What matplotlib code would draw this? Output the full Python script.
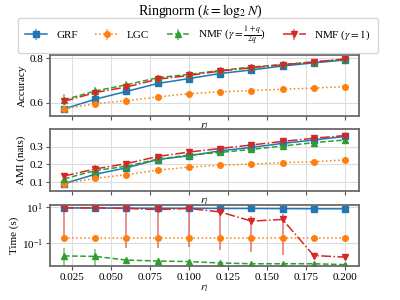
import matplotlib
matplotlib.use('Agg')
from matplotlib import pyplot as plt

plt.rcParams['font.family'] = ['Liberation Serif', 'DejaVu Serif']
plt.rcParams['mathtext.fontset'] = 'stix'
plt.rcParams['font.size'] = 8

r_l = [0.02, 0.04, 0.06, 0.08, 0.10, 0.12, 0.14, 0.16, 0.18, 0.20]
labels = ['GRF', 'LGC', r'NMF ($\gamma=\frac{1+q}{2q}$)', r'NMF ($\gamma=1$)']

acc_grf = [0.571, 0.615, 0.650, 0.686, 0.708, 0.731, 0.747, 0.765, 0.779, 0.792]
acc_lgc = [0.571, 0.595, 0.608, 0.625, 0.640, 0.648, 0.654, 0.660, 0.665, 0.672]
acc_nmf = [0.612, 0.652, 0.680, 0.712, 0.727, 0.745, 0.760, 0.772, 0.783, 0.795]
acc_nmf1 = [0.605, 0.645, 0.670, 0.705, 0.722, 0.742, 0.757, 0.770, 0.783, 0.797]
acc_err_grf = [0.006, 0.006, 0.006, 0.006, 0.005, 0.005, 0.005, 0.005, 0.005, 0.005]
acc_err_lgc = [0.010, 0.012, 0.015, 0.014, 0.014, 0.012, 0.012, 0.010, 0.010, 0.012]
acc_err_nmf = [0.025, 0.020, 0.015, 0.010, 0.010, 0.008, 0.007, 0.006, 0.006, 0.005]
acc_err_nmf1 = [0.012, 0.012, 0.010, 0.008, 0.008, 0.007, 0.006, 0.006, 0.006, 0.005]

ami_grf = [0.092, 0.145, 0.181, 0.228, 0.249, 0.277, 0.296, 0.319, 0.338, 0.358]
ami_lgc = [0.092, 0.122, 0.143, 0.168, 0.185, 0.196, 0.202, 0.211, 0.215, 0.226]
ami_nmf = [0.119, 0.166, 0.190, 0.230, 0.253, 0.268, 0.285, 0.304, 0.323, 0.338]
ami_nmf1 = [0.135, 0.175, 0.205, 0.245, 0.270, 0.290, 0.310, 0.330, 0.348, 0.363]
ami_err_grf = [0.015, 0.010, 0.010, 0.008, 0.008, 0.007, 0.007, 0.006, 0.006, 0.006]
ami_err_lgc = [0.015, 0.015, 0.020, 0.020, 0.020, 0.018, 0.015, 0.015, 0.015, 0.018]
ami_err_nmf = [0.015, 0.015, 0.012, 0.010, 0.010, 0.009, 0.008, 0.008, 0.008, 0.008]
ami_err_nmf1 = [0.015, 0.020, 0.015, 0.012, 0.012, 0.010, 0.010, 0.009, 0.008, 0.008]

time_grf = [9.5, 9.3, 9.2, 9.0, 9.0, 8.8, 8.8, 8.6, 8.5, 8.4]
time_lgc = [0.19, 0.19, 0.19, 0.19, 0.19, 0.19, 0.19, 0.19, 0.19, 0.19]
time_nmf = [0.018, 0.017, 0.0105, 0.0093, 0.0086, 0.0072, 0.0065, 0.0065, 0.0065, 0.0058]
time_nmf1 = [9.5, 9.6, 8.8, 7.7, 8.8, 5.6, 1.7, 2.1, 0.019, 0.0155]
time_err_grf = [0.5, 0.5, 0.5, 0.5, 0.5, 0.5, 0.5, 0.5, 0.5, 0.5]
time_err_lgc = [0.01, 0.01, 0.01, 0.01, 0.01, 0.01, 0.01, 0.01, 0.01, 0.01]
time_err_nmf = [0.034, 0.027, 0.001, 0.001, 0.001, 0.001, 0.001, 0.001, 0.001, 0.001]
time_err_nmf1 = [9.3, 0.5, 8.75, 7.65, 8.74, 5.56, 1.67, 2.08, 0.002, 0.002]

colors = ['#1f77b4', '#ff7f0e', '#2ca02c', '#d62728']
markers = ['s', 'o', '^', 'v']
styles = ['-', ':', '--', '-.']

fig = plt.figure(figsize=(4, 3), dpi=100)
ax1 = fig.add_axes([0.125, 0.614, 0.7725, 0.203])
ax2 = fig.add_axes([0.125, 0.363, 0.7725, 0.207], sharex=ax1)
ax3 = fig.add_axes([0.125, 0.113, 0.7725, 0.203], sharex=ax1)

panels = [
    (ax1, [acc_grf, acc_lgc, acc_nmf, acc_nmf1], [acc_err_grf, acc_err_lgc, acc_err_nmf, acc_err_nmf1]),
    (ax2, [ami_grf, ami_lgc, ami_nmf, ami_nmf1], [ami_err_grf, ami_err_lgc, ami_err_nmf, ami_err_nmf1]),
    (ax3, [time_grf, time_lgc, time_nmf, time_nmf1], [time_err_grf, time_err_lgc, time_err_nmf, time_err_nmf1]),
]

handles = []
for ax, ys, errs in panels:
    if ax is ax3:
        ax.set_yscale('log')
    for i in range(4):
        h = ax.errorbar(r_l, ys[i], yerr=errs[i], color=colors[i], marker=markers[i],
                        linestyle=styles[i], markersize=4, linewidth=1.1,
                        elinewidth=1.3, ecolor=colors[i], capsize=0)
        h[2][0].set_alpha(0.55)
        if ax is ax1:
            handles.append(h)
    ax.grid(True, color='#dddddd', linewidth=0.8)
    ax.set_axisbelow(True)
    for s in ax.spines.values():
        s.set_color('#6a6a6a')
        s.set_linewidth(1.3)
    ax.tick_params(length=3, width=0.8, color='#555555', pad=2)
    ax.set_xlabel('$r_l$', labelpad=1)

ax1.set_ylim(0.54, 0.815)
ax1.set_yticks([0.6, 0.8])
ax1.set_ylabel('Accuracy', labelpad=2)
ax2.set_ylim(0.05, 0.4)
ax2.set_yticks([0.1, 0.2, 0.3])
ax2.set_ylabel('AMI (nats)', labelpad=2)
ax3.set_ylim(10 ** -2.32, 10 ** 1.13)
ax3.set_yticks([0.1, 10])
ax3.set_ylabel('Time (s)', labelpad=2)
ax3.set_xlim(0.011, 0.209)
ax3.set_xticks([0.025, 0.05, 0.075, 0.1, 0.125, 0.15, 0.175, 0.2])
ax3.set_xticklabels(['0.025', '0.050', '0.075', '0.100', '0.125', '0.150', '0.175', '0.200'])
plt.setp(ax1.get_xticklabels(), visible=False)
plt.setp(ax2.get_xticklabels(), visible=False)

fig.legend(handles, labels, loc='center', bbox_to_anchor=(0.495, 0.881), ncol=4,
           fontsize=8, frameon=True, columnspacing=1.6, handlelength=2.0,
           handletextpad=0.8, borderpad=0.6)
fig.suptitle(r'Ringnorm ($k=\log_2 N$)', y=0.99, fontsize=10)

fig.savefig('out.png', dpi=100)
